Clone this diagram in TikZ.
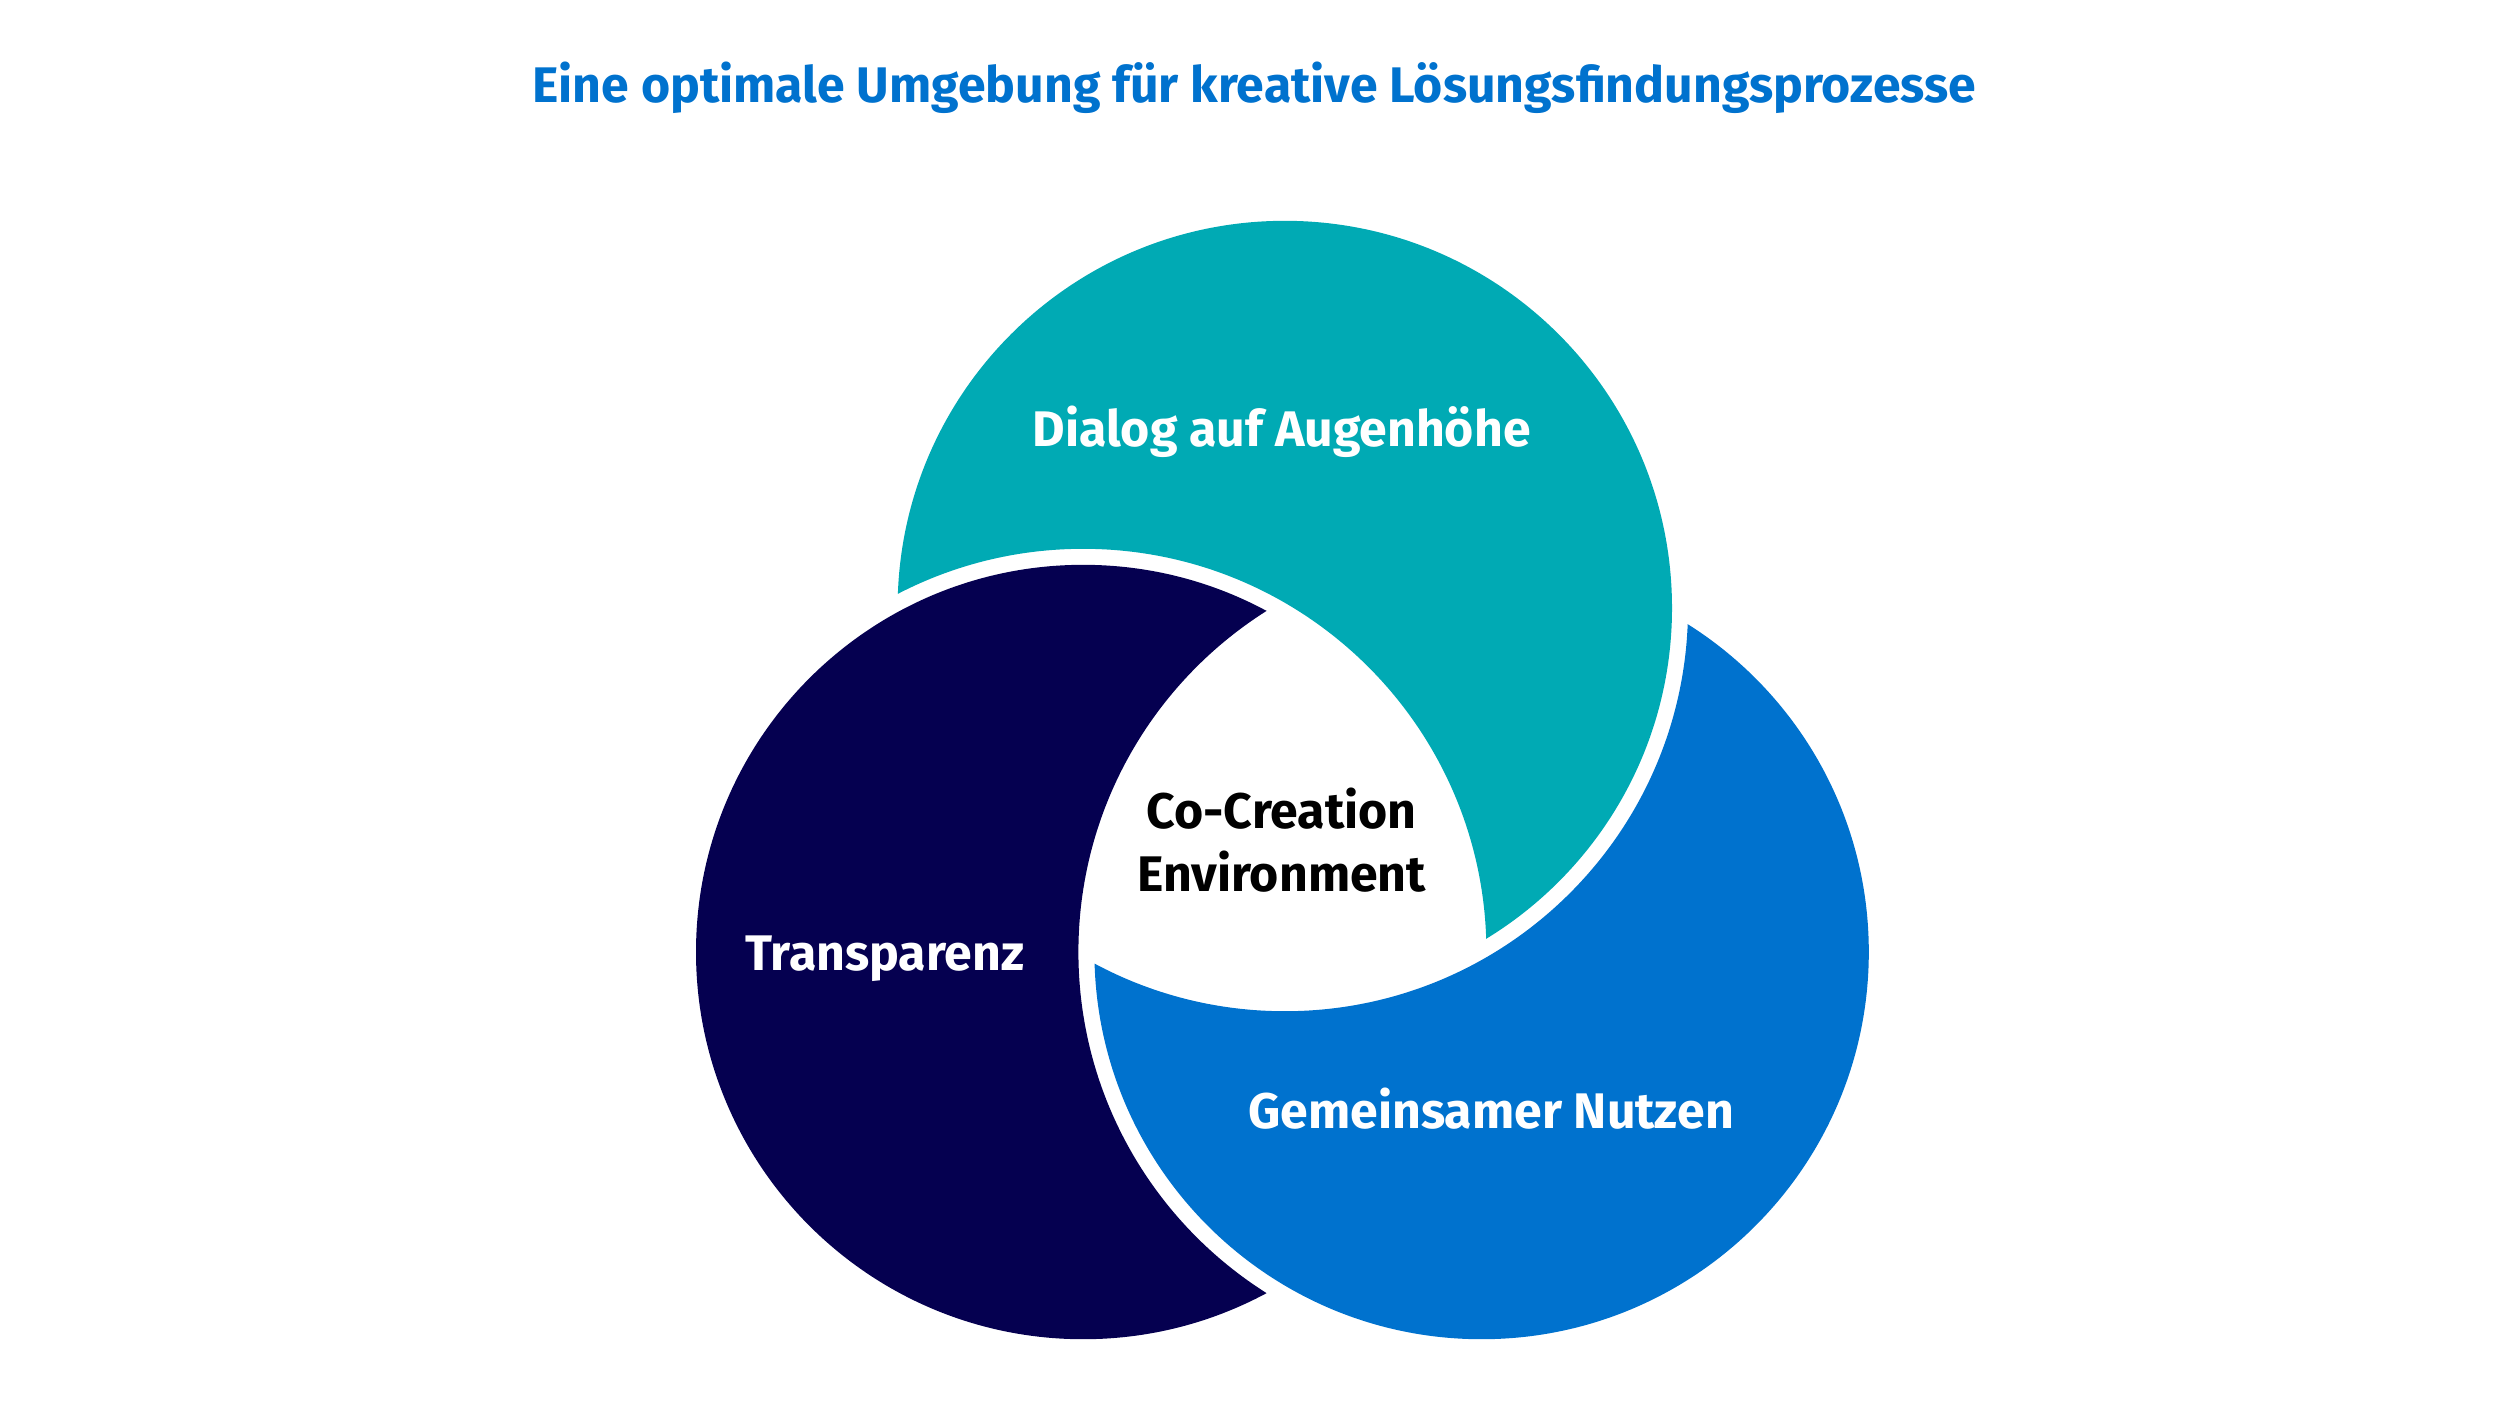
\documentclass[tikz,border=0pt]{standalone}
\usepackage{fontspec}
\setmainfont{Fira Sans}
\definecolor{tealc}{HTML}{00AAB4}
\definecolor{navyc}{HTML}{050050}
\definecolor{bluec}{HTML}{0072CE}
\begin{document}
\begin{tikzpicture}[x=0.64pt,y=-0.64pt,
  lbl/.style={font=\bfseries\fontsize{20}{24}\selectfont,text=white}]
\useasboundingbox (0,0) rectangle (1562.5,878.75);
\def\R{242}\def\G{252}
\coordinate (T) at (803,380);
\coordinate (N) at (677,595);
\coordinate (B) at (926,595);
\begin{scope}[even odd rule]
\clip (0,0) rectangle (1562.5,878.75) (N) circle[radius=\G];
\fill[tealc] (T) circle[radius=\R];
\end{scope}
\begin{scope}[even odd rule]
\clip (0,0) rectangle (1562.5,878.75) (B) circle[radius=\G];
\fill[navyc] (N) circle[radius=\R];
\end{scope}
\begin{scope}[even odd rule]
\clip (0,0) rectangle (1562.5,878.75) (T) circle[radius=\G];
\fill[bluec] (B) circle[radius=\R];
\end{scope}
\node[font=\bfseries\fontsize{20}{24}\selectfont,text=bluec] (title) at (784,55) {Eine optimale Umgebung für kreative Lösungsfindungsprozesse};
\node[lbl] (d) at (801,270) {Dialog auf Augenhöhe};
\node[lbl] (t) at (553,599) {Transparenz};
\node[lbl] (g) at (932,693) {Gemeinsamer Nutzen};
\node[font=\bfseries\fontsize{20}{25}\selectfont,align=center] (c) at (801,525) {Co-Creation\\Environment};
\end{tikzpicture}
\end{document}
